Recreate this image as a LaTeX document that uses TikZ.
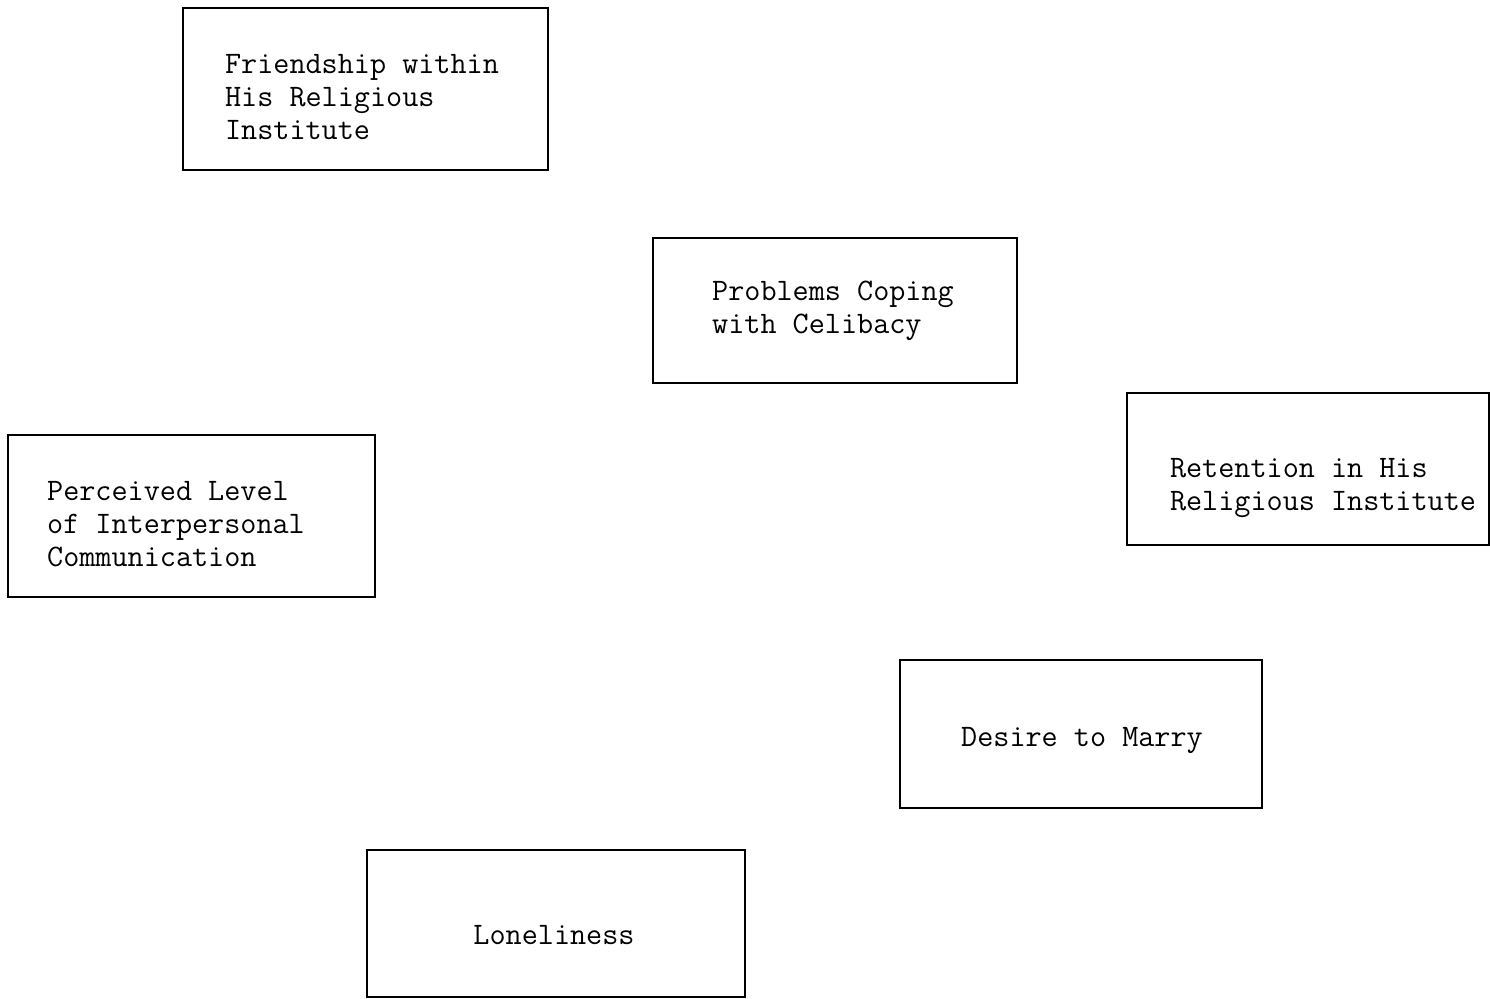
\documentclass[tikz,border=0pt]{standalone}
\begin{document}
\begin{tikzpicture}[x=0.02cm, y=-0.02cm, line width=1.3pt, box/.style = {draw, rectangle, inner sep=0pt}, txt/.style = {align=left, inner sep=0pt, font=\fontsize{17.8}{18.8}\selectfont\ttfamily}]
		\useasboundingbox (0,0) rectangle (1490,999);
		
		% boxes
		\node[box, minimum width=7.3cm, minimum height=3.24cm] (friend) at (365.5,89) {};
		\node[box, minimum width=7.28cm, minimum height=2.9cm] (celib) at (835,310.5) {};
		\node[box, minimum width=7.24cm, minimum height=3.04cm] (retain) at (1308,469) {};
		\node[box, minimum width=7.34cm, minimum height=3.24cm] (comm) at (191.5,516) {};
		\node[box, minimum width=7.24cm, minimum height=2.96cm] (marry) at (1081,734) {};
		\node[box, minimum width=7.56cm, minimum height=2.94cm] (lonely) at (556,923.5) {};
		
		% texts
		\node[txt] (friendtext) at (362,97) {Friendship within\\His Religious\\Institute};
		\node[txt] (celibtext) at (833,311) {Problems Coping\\with Celibacy};
		\node[txt] (retaintext) at (1323,488.5) {Retention in His\\Religious Institute};
		\node[txt] (commtext) at (176,524) {Perceived Level\\of Interpersonal\\Communication};
		\node[txt] (marrytext) at (1082,741) {Desire to Marry};
		\node[txt] (lonelytext) at (554,935.5) {Loneliness};
		
	\end{tikzpicture}
\end{document}
